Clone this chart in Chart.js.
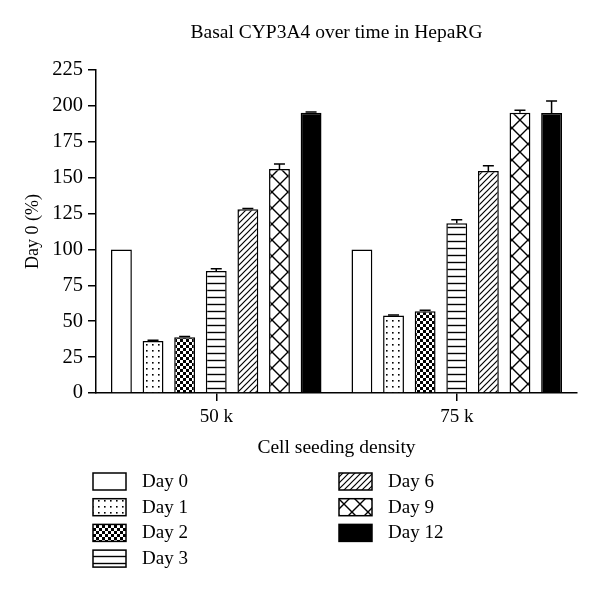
<!DOCTYPE html>
<html>
<head>
<meta charset="utf-8">
<script src="https://cdn.jsdelivr.net/npm/chart.js@4"></script>
<style>
  body { margin: 0; background: #fff; }
  canvas { display: block; }
</style>
</head>
<body>
<canvas id="chart" width="600" height="590"></canvas>
<script>
var categories = ["50 k", "75 k"];
var seriesNames = ["Day 0", "Day 1", "Day 2", "Day 3", "Day 6", "Day 9", "Day 12"];

// mean values, one array per day, [50 k, 75 k]
var day0 = [100, 100];
var day1 = [36.2, 54.0];
var day2 = [38.8, 57.0];
var day3 = [85.0, 118.2];
var day6 = [128.0, 154.6];
var day9 = [156.0, 195.2];
var day12 = [195.2, 195.0];

// upper error (SEM), same layout
var err0 = [0, 0];
var err1 = [0.5, 0.4];
var err2 = [0.5, 0.6];
var err3 = [1.6, 2.5];
var err6 = [0.5, 3.7];
var err9 = [3.5, 1.7];
var err12 = [0.5, 8.4];

var yTicks = [0, 25, 50, 75, 100, 125, 150, 175, 200, 225];

var FONT = "'Liberation Serif', 'Times New Roman', serif";

function tile(w, h, draw){
  var c = document.createElement("canvas");
  c.width = w; c.height = h;
  var g = c.getContext("2d");
  g.fillStyle = "#fff";
  g.fillRect(0, 0, w, h);
  g.strokeStyle = "#000";
  g.fillStyle = "#000";
  draw(g, w, h);
  return document.getElementById("chart").getContext("2d").createPattern(c, "repeat");
}

var patterns = [
  "#ffffff",
  tile(6, 6, function(g){ g.fillRect(2, 2, 1.6, 1.6); }),
  tile(6, 6, function(g){
    g.fillRect(0, 0, 6, 6);
    g.fillStyle = "#fff";
    g.fillRect(0, 0, 3, 3);
    g.fillRect(3, 3, 3, 3);
  }),
  tile(7, 7, function(g){
    g.lineWidth = 1.4;
    g.beginPath(); g.moveTo(0, 3.5); g.lineTo(7, 3.5); g.stroke();
  }),
  tile(6, 6, function(g){
    g.lineWidth = 1.2;
    g.beginPath();
    g.moveTo(-1, 7); g.lineTo(7, -1);
    g.moveTo(-1, 1); g.lineTo(1, -1);
    g.moveTo(5, 7); g.lineTo(7, 5);
    g.stroke();
  }),
  tile(16, 16, function(g){
    g.lineWidth = 1.4;
    g.beginPath();
    g.moveTo(0, 0); g.lineTo(16, 16);
    g.moveTo(16, 0); g.lineTo(0, 16);
    g.stroke();
  }),
  "#000000"
];

var values = [day0, day1, day2, day3, day6, day9, day12];
var errors = [err0, err1, err2, err3, err6, err9, err12];

var datasets = seriesNames.map(function(name, i){
  return {
    label: name,
    data: values[i],
    errors: errors[i],
    backgroundColor: patterns[i],
    borderColor: "#000",
    borderWidth: 1.5,
    categoryPercentage: 0.92,
    barPercentage: 0.66
  };
});

var errorBars = {
  id: "errorBars",
  afterDatasetsDraw: function(chart){
    var ctx = chart.ctx;
    var y = chart.scales.y;
    ctx.save();
    ctx.strokeStyle = "#000";
    ctx.lineWidth = 1.5;
    chart.data.datasets.forEach(function(ds, i){
      var meta = chart.getDatasetMeta(i);
      meta.data.forEach(function(bar, j){
        var e = ds.errors[j];
        if (!e) return;
        var top = y.getPixelForValue(ds.data[j] + e);
        ctx.beginPath();
        ctx.moveTo(bar.x, bar.y);
        ctx.lineTo(bar.x, top);
        ctx.moveTo(bar.x - 5.5, top);
        ctx.lineTo(bar.x + 5.5, top);
        ctx.stroke();
      });
    });
    ctx.restore();
  }
};

var titleAndLegend = {
  id: "titleAndLegend",
  afterDraw: function(chart){
    var ctx = chart.ctx;
    var area = chart.chartArea;
    ctx.save();
    ctx.fillStyle = "#000";
    ctx.font = "19.5px " + FONT;
    ctx.textAlign = "center";
    ctx.textBaseline = "middle";
    ctx.fillText("Basal CYP3A4 over time in HepaRG", (area.left + area.right) / 2, 33);

    // legend: two columns, four rows in the first
    ctx.font = "19px " + FONT;
    ctx.textAlign = "left";
    chart.data.datasets.forEach(function(ds, i){
      var col = i < 4 ? 0 : 1;
      var row = i < 4 ? i : i - 4;
      var bx = col === 0 ? 93 : 339;
      var by = 473 + row * 25.7;
      ctx.fillStyle = ds.backgroundColor;
      ctx.fillRect(bx, by, 33, 17);
      ctx.strokeStyle = "#000";
      ctx.lineWidth = 1.5;
      ctx.strokeRect(bx, by, 33, 17);
      ctx.fillStyle = "#000";
      ctx.fillText(ds.label, bx + 49, by + 9);
    });
    ctx.restore();
  }
};

var ctx = document.getElementById("chart").getContext("2d");
var chart = new Chart(ctx, {
  type: "bar",
  data: { labels: categories, datasets: datasets },
  plugins: [errorBars, titleAndLegend],
  options: {
    responsive: false,
    animation: false,
    layout: { padding: { top: 70, right: 23, bottom: 120, left: 0 } },
    plugins: { legend: { display: false }, tooltip: { enabled: false } },
    scales: {
      x: {
        grid: { display: true, offset: false, drawOnChartArea: false, tickLength: 8, color: "#000", lineWidth: 1.5 },
        border: { display: true, color: "#000", width: 1.5 },
        ticks: { color: "#000", padding: 5, font: { family: FONT, size: 19 } },
        title: { display: true, text: "Cell seeding density", color: "#000", padding: { top: 0, bottom: 10 }, font: { family: FONT, size: 19.5 } },
        afterFit: function(s){ s.height = 77; }
      },
      y: {
        min: 0,
        max: 225,
        afterBuildTicks: function(s){ s.ticks = yTicks.map(function(v){ return { value: v }; }); },
        grid: { display: true, drawOnChartArea: false, tickLength: 8, color: "#000", lineWidth: 1.5 },
        border: { display: true, color: "#000", width: 1.5 },
        ticks: { color: "#000", padding: 5, font: { family: FONT, size: 20.5 } },
        title: { display: true, text: "Day 0 (%)", color: "#000", padding: { top: 22, bottom: 0 }, font: { family: FONT, size: 18 } },
        afterFit: function(s){ s.width = 96; }
      }
    }
  }
});
</script>
</body>
</html>
